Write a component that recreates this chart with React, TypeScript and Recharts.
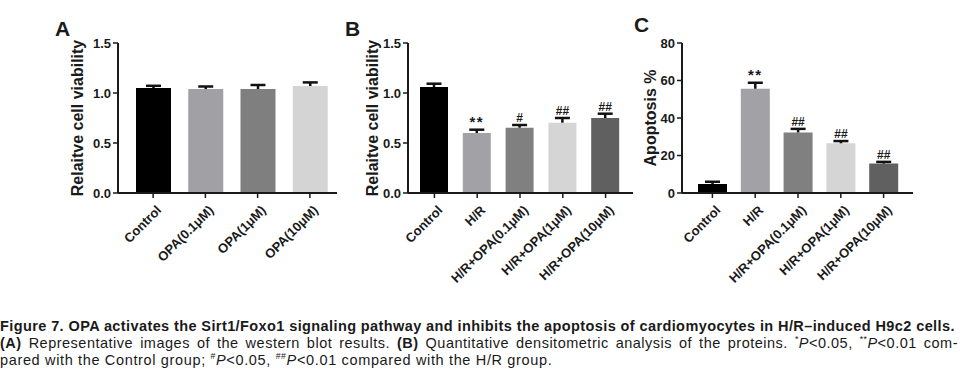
import React from "react";
import { BarChart, Bar, XAxis, YAxis, Cell, LabelList } from "recharts";

// Panel A: viability with OPA alone
const groupsA = ["Control", "OPA(0.1μM)", "OPA(1μM)", "OPA(10μM)"];
const viabilityA = [1.05, 1.04, 1.04, 1.07];
const errorA = [0.022, 0.025, 0.04, 0.036];
const marksA = ["", "", "", ""];
const colorsA = ["#000000", "#a0a0a5", "#7f7f7f", "#d4d4d4"];

// Panels B and C: H/R model with OPA
const groupsBC = ["Control", "H/R", "H/R+OPA(0.1μM)", "H/R+OPA(1μM)", "H/R+OPA(10μM)"];
const viabilityB = [1.06, 0.6, 0.653, 0.703, 0.75];
const errorB = [0.033, 0.033, 0.027, 0.047, 0.043];
const marksB = ["", "**", "#", "##", "##"];
const apoptosisC = [4.8, 55.6, 32.3, 26.5, 15.7];
const errorC = [1.2, 3.2, 1.9, 1.2, 0.9];
const marksC = ["", "**", "##", "##", "##"];
const colorsBC = ["#000000", "#a1a1a6", "#808080", "#d5d5d5", "#606060"];

const ticksViability = [0, 0.5, 1, 1.5];
const ticksApoptosis = [0, 20, 40, 60, 80];

const FONT = '"Liberation Sans", Arial, sans-serif';
const INK = "#1a1a1a";

const buildRows = (names: string[], values: number[], errs: number[], marks: string[]) =>
  names.map((name, i) => ({ name, value: values[i], sem: errs[i], mark: marks[i] }));

const SlantTick = (props: any) => {
  const { x, y, payload } = props;
  return (
    <g transform={`translate(${x + 9},${y + 11})`}>
      <text textAnchor="end" transform="rotate(-45)" fontSize={13} fontWeight="bold" fontFamily={FONT} fill={INK}>
        {payload.value}
      </text>
    </g>
  );
};

// upper half of the SEM bar, GraphPad style
const ErrorCap = (props: any) => {
  const { x, y, width, height } = props;
  const cx = x + width / 2;
  return (
    <g stroke="#111" strokeWidth={2.5}>
      <line x1={cx} x2={cx} y1={y} y2={y + height} />
      <line x1={cx - 7.5} x2={cx + 7.5} y1={y} y2={y} />
    </g>
  );
};

interface PanelProps {
  left: number;
  width: number;
  axisW: number;
  labelX: number;
  yLabel: string;
  rows: any[];
  colors: string[];
  max: number;
  ticks: number[];
  digits: number;
  barSize: number;
  pad: { left: number; right: number };
}

function Panel(p: PanelProps) {
  return (
    <div style={{ position: "absolute", left: p.left, top: 0 }}>
      <BarChart width={p.width} height={290} data={p.rows} margin={{ top: 43, right: 4, bottom: 0, left: 0 }}>
        <XAxis
          dataKey="name"
          interval={0}
          tick={<SlantTick />}
          tickSize={5}
          height={97}
          padding={p.pad}
          axisLine={{ stroke: INK, strokeWidth: 2 }}
          tickLine={{ stroke: INK, strokeWidth: 1.5 }}
        />
        <YAxis
          width={p.axisW}
          domain={[0, p.max]}
          ticks={p.ticks}
          tickFormatter={(v: number) => v.toFixed(p.digits)}
          tickSize={5}
          tickMargin={2}
          axisLine={{ stroke: INK, strokeWidth: 2 }}
          tickLine={{ stroke: INK, strokeWidth: 1.5 }}
          tick={{ fontSize: 13, fontWeight: "bold", fill: INK, fontFamily: FONT }}
          label={{
            content: (lp: any) => {
              const vb = lp.viewBox;
              const cx = vb.x + p.labelX;
              const cy = vb.y + vb.height / 2;
              return (
                <text
                  x={cx}
                  y={cy}
                  transform={`rotate(-90, ${cx}, ${cy})`}
                  textAnchor="middle"
                  dominantBaseline="central"
                  fontSize={16}
                  fontWeight="bold"
                  fontFamily={FONT}
                  fill={INK}
                >
                  {p.yLabel}
                </text>
              );
            },
          }}
        />
        <Bar dataKey="value" stackId="s" barSize={p.barSize} isAnimationActive={false}>
          {p.rows.map((_, i) => (
            <Cell key={i} fill={p.colors[i]} />
          ))}
        </Bar>
        <Bar dataKey="sem" stackId="s" barSize={p.barSize} shape={<ErrorCap />} isAnimationActive={false}>
          <LabelList
            dataKey="mark"
            content={(lp: any) =>
              lp.value ? (
                <text
                  x={lp.x + lp.width / 2}
                  y={lp.y - 3}
                  textAnchor="middle"
                  fontSize={lp.value === "**" ? 15 : 12}
                  letterSpacing={lp.value === "**" ? 1.5 : 0}
                  fontWeight="bold"
                  fontFamily={FONT}
                  fill={INK}
                >
                  {lp.value}
                </text>
              ) : null
            }
          />
        </Bar>
      </BarChart>
    </div>
  );
}

const letterStyle = {
  position: "absolute",
  fontFamily: FONT,
  fontWeight: "bold",
  fontSize: 21,
  lineHeight: "21px",
  color: INK,
} as const;

const sup = { fontSize: "0.6em", verticalAlign: "super", lineHeight: 0 } as const;

export default function App() {
  const rowsA = buildRows(groupsA, viabilityA, errorA, marksA);
  const rowsB = buildRows(groupsBC, viabilityB, errorB, marksB);
  const rowsC = buildRows(groupsBC, apoptosisC, errorC, marksC);

  return (
    <div style={{ position: "absolute", left: 0, top: 0, width: 974, height: 384, background: "#fff" }}>
      <Panel
        left={50}
        width={291}
        axisW={68}
        labelX={27}
        yLabel="Relaitve cell viability"
        rows={rowsA}
        colors={colorsA}
        max={1.5}
        ticks={ticksViability}
        digits={1}
        barSize={35}
        pad={{ left: 9, right: 1 }}
      />
      <Panel
        left={340}
        width={297}
        axisW={68}
        labelX={32}
        yLabel="Relaitve cell viability"
        rows={rowsB}
        colors={colorsBC}
        max={1.5}
        ticks={ticksViability}
        digits={1}
        barSize={28}
        pad={{ left: 5, right: 6 }}
      />
      <Panel
        left={630}
        width={287}
        axisW={52}
        labelX={20}
        yLabel="Apoptosis %"
        rows={rowsC}
        colors={colorsBC}
        max={80}
        ticks={ticksApoptosis}
        digits={0}
        barSize={29}
        pad={{ left: 9, right: 8 }}
      />

      <div style={{ ...letterStyle, left: 55, top: 18 }}>A</div>
      <div style={{ ...letterStyle, left: 345, top: 18 }}>B</div>
      <div style={{ ...letterStyle, left: 634, top: 14 }}>C</div>

      <div
        style={{
          position: "absolute",
          left: 0,
          top: 318,
          width: 958,
          fontFamily: '"Liberation Sans Narrow", "Liberation Sans", sans-serif',
          fontSize: 14.5,
          lineHeight: "17px",
          color: INK,
        }}
      >
        <div style={{ fontWeight: "bold", whiteSpace: "nowrap", letterSpacing: 0.4 }}>
          Figure 7. OPA activates the Sirt1/Foxo1 signaling pathway and inhibits the apoptosis of cardiomyocytes in
          H/R–induced H9c2 cells.
        </div>
        <div style={{ textAlign: "justify", textAlignLast: "justify", whiteSpace: "nowrap", letterSpacing: 0.5 }}>
          <b>(A)</b> Representative images of the western blot results. <b>(B)</b> Quantitative densitometric analysis
          of the proteins. <span style={sup}>*</span>
          <i>P</i>&lt;0.05, <span style={sup}>**</span>
          <i>P</i>&lt;0.01 com-
        </div>
        <div style={{ whiteSpace: "nowrap", letterSpacing: 0.65 }}>
          pared with the Control group; <span style={sup}>#</span>
          <i>P</i>&lt;0.05, <span style={sup}>##</span>
          <i>P</i>&lt;0.01 compared with the H/R group.
        </div>
      </div>
    </div>
  );
}
